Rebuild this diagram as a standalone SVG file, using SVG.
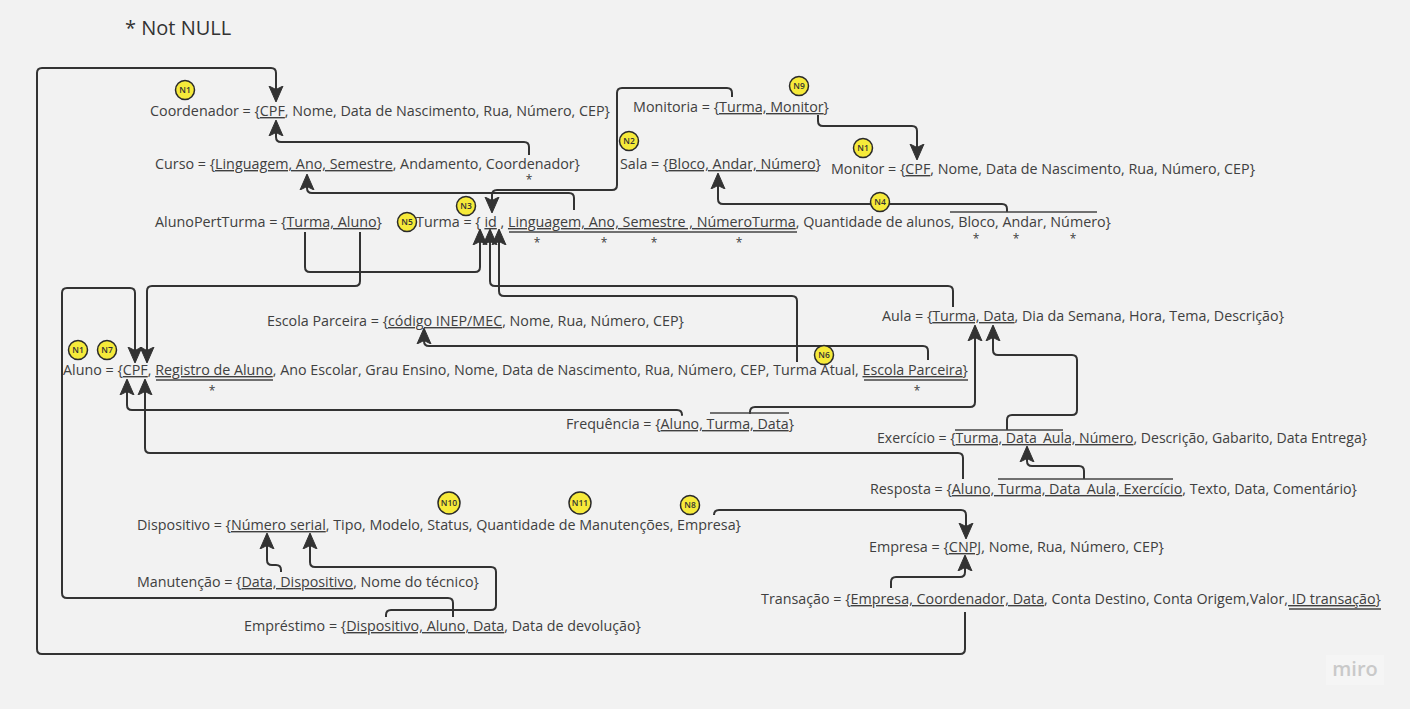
<svg xmlns="http://www.w3.org/2000/svg" width="1410" height="709" viewBox="0 0 1410 709">
<defs>
<style>
.t{font-family:"Open Sans","Liberation Sans",sans-serif;font-size:14px;fill:#404040}
.u{text-decoration:underline}
.s{font-family:"Open Sans","Liberation Sans",sans-serif;font-size:12px;fill:#404040;text-anchor:middle}
.ca{fill:none;stroke:#333;stroke-width:2;stroke-linejoin:round;marker-end:url(#ah)}
.ul{stroke:#444;stroke-width:1.5}
.bc{fill:#f6ea3a;stroke:#2a2a2a;stroke-width:1.5}
.bt{font-family:"Open Sans","Liberation Sans",sans-serif;font-size:8.5px;font-weight:600;fill:#333;text-anchor:middle}
</style>
<marker id="ah" viewBox="0 0 16 16" refX="15" refY="8" markerWidth="16" markerHeight="16" markerUnits="userSpaceOnUse" orient="auto">
<path d="M0,1 L16,8 L0,15 L3.5,8 Z" fill="#333" stroke="#333" stroke-width="1" stroke-linejoin="round"/>
</marker>
</defs>
<rect width="1410" height="709" fill="#f2f2f2"/>
<text x="125" y="35" style="font-family:'Open Sans','Liberation Sans',sans-serif;font-size:20px;fill:#333">* Not NULL</text>

<g id="connectors">
<path class="ca" d="M965,612 V649 Q965,654 960,654 H42 Q37,654 37,649 V73 Q37,68 42,68 H271 Q276,68 276,73 V101"/>
<path class="ca" d="M529,155 V147 Q529,142 524,142 H281 Q276,142 276,137 V121"/>
<path class="ca" d="M574,210 V198 Q574,193 569,193 H312 Q307,193 307,188 V175"/>
<path class="ca" d="M732,97 V93 Q732,88 727,88 H622 Q617,88 617,93 V185 Q617,190 612,190 H497 Q492,190 492,195 V212"/>
<path class="ca" d="M818,115 V121 Q818,126 823,126 H912 Q917,126 917,131 V159"/>
<path class="ca" d="M1007,212 V209 Q1007,204 1002,204 H723 Q718,204 718,199 V174"/>
<path class="ca" d="M305,232 V267 Q305,272 310,272 H475 Q480,272 480,267 V230"/>
<path class="ca" d="M360,232 V281 Q360,286 355,286 H152 Q147,286 147,291 V362"/>
<path class="ca" d="M953,307 V291 Q953,286 948,286 H495 Q490,286 490,281 V230"/>
<path class="ca" d="M797,362 V301 Q797,296 792,296 H504 Q499,296 499,291 V230"/>
<path class="ca" d="M928,360 V351 Q928,346 923,346 H429 Q424,346 424,341 V329"/>
<path class="ca" d="M453,617 V603 Q453,598 448,598 H67 Q62,598 62,593 V293 Q62,288 67,288 H130 Q135,288 135,293 V362"/>
<path class="ca" d="M682,414 V415 Q682,410 677,410 H132 Q127,410 127,405 V380"/>
<path class="ca" d="M750,414 V412 Q750,407 755,407 H970 Q975,407 975,402 V326"/>
<path class="ca" d="M1007,430 V420 Q1007,415 1012,415 H1072 Q1077,415 1077,410 V360 Q1077,355 1072,355 H998 Q993,355 993,350 V326"/>
<path class="ca" d="M963,479 V458 Q963,453 958,453 H150 Q145,453 145,448 V380"/>
<path class="ca" d="M1084,479 V471 Q1084,466 1079,466 H1032 Q1027,466 1027,461 V447"/>
<path class="ca" d="M281,572 V570 Q281,565 276,565 H272 Q267,565 267,560 V534"/>
<path class="ca" d="M386,617 V615 Q386,610 391,610 H491 Q496,610 496,605 V572 Q496,567 491,567 H315 Q310,567 310,562 V534"/>
<path class="ca" d="M714,515 V515 Q714,510 719,510 H961 Q966,510 966,515 V538"/>
<path class="ca" d="M891,588 V582 Q891,577 896,577 H960 Q965,577 965,572 V556"/>
<line class="ul" x1="950" y1="212" x2="1097" y2="212"/>
<line class="ul" x1="710" y1="413" x2="789" y2="413"/>
<line class="ul" x1="955" y1="430" x2="1063" y2="430"/>
<line class="ul" x1="998" y1="479" x2="1173" y2="479"/>
<line class="ul" x1="509" y1="232" x2="797" y2="232"/>
<line class="ul" x1="156" y1="380" x2="273" y2="380"/>
<line class="ul" x1="864" y1="380" x2="968" y2="380"/>
<line class="ul" x1="1289" y1="609" x2="1381" y2="609"/>
</g>

<g id="coordenador"><text class="t" x="150" y="116" textLength="460" lengthAdjust="spacingAndGlyphs">Coordenador = {<tspan class="u">CPF</tspan>, Nome, Data de Nascimento, Rua, Número, CEP}</text>
<circle class="bc" cx="185" cy="90" r="9.5"/><text class="bt" x="185" y="93">N1</text></g>

<g id="curso"><text class="t" x="155" y="169" textLength="425" lengthAdjust="spacingAndGlyphs">Curso = {<tspan class="u">Linguagem, Ano, Semestre</tspan>, Andamento, Coordenador}</text>
<text class="s" x="529" y="184">*</text></g>

<g id="alunoperturma"><text class="t" x="155" y="227" textLength="227" lengthAdjust="spacingAndGlyphs">AlunoPertTurma = {<tspan class="u">Turma, Aluno</tspan>}</text></g>

<g id="turma"><text class="t" x="416" y="227" textLength="695" lengthAdjust="spacingAndGlyphs">Turma = { <tspan class="u">id</tspan> , <tspan class="u">Linguagem, Ano, Semestre , NúmeroTurma</tspan>, Quantidade de alunos, Bloco, Andar, Número}</text>
<text class="s" x="537" y="247">*</text><text class="s" x="604" y="247">*</text><text class="s" x="654" y="247">*</text><text class="s" x="739" y="247">*</text>
<text class="s" x="976" y="243">*</text><text class="s" x="1016" y="243">*</text><text class="s" x="1073" y="243">*</text>
<circle class="bc" cx="466" cy="206" r="9.5"/><text class="bt" x="466" y="209">N3</text>
<circle class="bc" cx="407" cy="222" r="9.5"/><text class="bt" x="407" y="225">N5</text></g>

<g id="monitoria"><text class="t" x="633" y="112" textLength="196" lengthAdjust="spacingAndGlyphs">Monitoria = {<tspan class="u">Turma, Monitor</tspan>}</text>
<circle class="bc" cx="799" cy="86" r="9.5"/><text class="bt" x="799" y="89">N9</text></g>

<g id="sala"><text class="t" x="620" y="169" textLength="201" lengthAdjust="spacingAndGlyphs">Sala = {<tspan class="u">Bloco, Andar, Número</tspan>}</text>
<circle class="bc" cx="629" cy="141" r="9.5"/><text class="bt" x="629" y="144">N2</text>
<circle class="bc" cx="880" cy="202" r="9.5"/><text class="bt" x="880" y="205">N4</text></g>

<g id="monitor"><text class="t" x="831" y="174" textLength="424" lengthAdjust="spacingAndGlyphs">Monitor = {<tspan class="u">CPF</tspan>, Nome, Data de Nascimento, Rua, Número, CEP}</text>
<circle class="bc" cx="863" cy="148" r="9.5"/><text class="bt" x="863" y="151">N1</text></g>

<g id="escola"><text class="t" x="267" y="326" textLength="417" lengthAdjust="spacingAndGlyphs">Escola Parceira = {<tspan class="u">código INEP/MEC</tspan>, Nome, Rua, Número, CEP}</text></g>

<g id="aula"><text class="t" x="882" y="321" textLength="402" lengthAdjust="spacingAndGlyphs">Aula = {<tspan class="u">Turma, Data</tspan>, Dia da Semana, Hora, Tema, Descrição}</text></g>

<g id="aluno"><text class="t" x="63" y="375" textLength="905" lengthAdjust="spacingAndGlyphs">Aluno = {<tspan class="u">CPF</tspan>, <tspan class="u">Registro de Aluno</tspan>, Ano Escolar, Grau Ensino, Nome, Data de Nascimento, Rua, Número, CEP, Turma Atual, <tspan class="u">Escola Parceira</tspan>}</text>
<text class="s" x="212" y="395">*</text><text class="s" x="917" y="395">*</text>
<circle class="bc" cx="78" cy="350" r="9.5"/><text class="bt" x="78" y="353">N1</text>
<circle class="bc" cx="107" cy="350" r="9.5"/><text class="bt" x="107" y="353">N7</text>
<circle class="bc" cx="824" cy="355" r="9.5"/><text class="bt" x="824" y="358">N6</text></g>

<g id="frequencia"><text class="t" x="566" y="429" textLength="228" lengthAdjust="spacingAndGlyphs">Frequência = {<tspan class="u">Aluno, Turma, Data</tspan>}</text></g>

<g id="exercicio"><text class="t" x="877" y="443" textLength="490" lengthAdjust="spacingAndGlyphs">Exercício = {<tspan class="u">Turma, Data_Aula, Número</tspan>, Descrição, Gabarito, Data Entrega}</text></g>

<g id="resposta"><text class="t" x="870" y="494" textLength="487" lengthAdjust="spacingAndGlyphs">Resposta = {<tspan class="u">Aluno, Turma, Data_Aula, Exercício</tspan>, Texto, Data, Comentário}</text></g>

<g id="dispositivo"><text class="t" x="137" y="530" textLength="604" lengthAdjust="spacingAndGlyphs">Dispositivo = {<tspan class="u">Número serial</tspan>, Tipo, Modelo, Status, Quantidade de Manutenções, Empresa}</text>
<circle class="bc" cx="449" cy="503" r="11"/><text class="bt" x="449" y="506">N10</text>
<circle class="bc" cx="580" cy="503" r="11"/><text class="bt" x="580" y="506">N11</text>
<circle class="bc" cx="690" cy="505" r="9.5"/><text class="bt" x="690" y="508">N8</text></g>

<g id="empresa"><text class="t" x="869" y="552" textLength="295" lengthAdjust="spacingAndGlyphs">Empresa = {<tspan class="u">CNPJ</tspan>, Nome, Rua, Número, CEP}</text></g>

<g id="manutencao"><text class="t" x="137" y="587" textLength="342" lengthAdjust="spacingAndGlyphs">Manutenção = {<tspan class="u">Data, Dispositivo</tspan>, Nome do técnico}</text></g>

<g id="transacao"><text class="t" x="761" y="604" textLength="620" lengthAdjust="spacingAndGlyphs">Transação = {<tspan class="u">Empresa, Coordenador, Data</tspan>, Conta Destino, Conta Origem,Valor,<tspan class="u"> ID transação</tspan>}</text></g>

<g id="emprestimo"><text class="t" x="244" y="631" textLength="397" lengthAdjust="spacingAndGlyphs">Empréstimo = {<tspan class="u">Dispositivo, Aluno, Data</tspan>, Data de devolução}</text></g>

<rect x="1326" y="655" width="58" height="30" fill="#f5f5f5"/>
<text x="1355" y="676" style="font-family:'Open Sans','Liberation Sans',sans-serif;font-size:20px;font-weight:600;fill:#c9c9c9;text-anchor:middle">miro</text>
</svg>
